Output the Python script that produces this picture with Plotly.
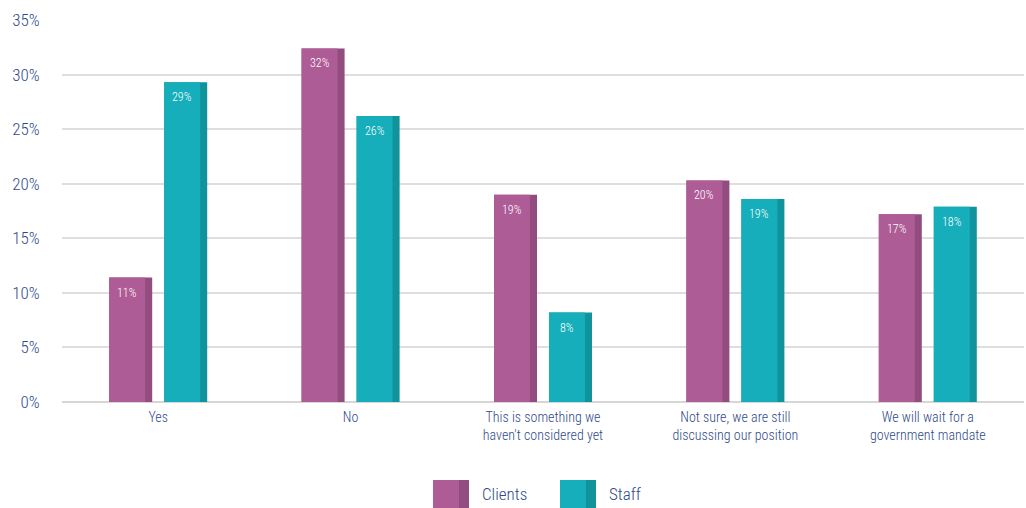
import plotly.graph_objects as go

categories = [
    "Yes",
    "No",
    "This is something we<br>haven't considered yet",
    "Not sure, we are still<br>discussing our position",
    "We will wait for a<br>government mandate",
]
clients = [11.4, 32.4, 19.0, 20.3, 17.2]
staff = [29.3, 26.2, 8.2, 18.6, 17.9]
y_ticks = [0, 5, 10, 15, 20, 25, 30, 35]
y_tick_text = [f"{v}%" for v in y_ticks]

CLIENT_FACE, CLIENT_SIDE = "#AE5C96", "#924C80"
STAFF_FACE, STAFF_SIDE = "#15AEBA", "#11939B"
TEXT = "#2F4A8A"
FONT = "Liberation Sans Narrow, Roboto Condensed, Roboto, sans-serif"

# widths in category units (one category = ~192 px)
CAT_PX = 962 / 5
full_w = 0.2235
face_w = 0.187
client_off = -0.2547
staff_off = 0.0312

fig = go.Figure()

for vals, off, face, side in [
    (clients, client_off, CLIENT_FACE, CLIENT_SIDE),
    (staff, staff_off, STAFF_FACE, STAFF_SIDE),
]:
    # darker side panel spanning the whole bar
    fig.add_trace(go.Bar(
        x=categories, y=vals, offset=off, width=full_w,
        marker=dict(color=side, line=dict(width=0)),
        hoverinfo="skip",
    ))
    # lighter front face
    fig.add_trace(go.Bar(
        x=categories, y=vals, offset=off, width=face_w,
        marker=dict(color=face, line=dict(width=0)),
    ))
    # value label near the top of the front face
    for cat, v in zip(categories, vals):
        fig.add_annotation(
            x=cat, y=v, text=f"{v:.0f}%", showarrow=False,
            xshift=(off + face_w / 2) * CAT_PX, yshift=-15,
            xanchor="center", yanchor="middle",
            font=dict(color="white", size=12, family=FONT, weight=300),
        )

fig.update_layout(
    barmode="overlay",
    width=1026, height=508,
    margin=dict(l=62, r=2, t=20, b=106),
    plot_bgcolor="white", paper_bgcolor="white",
    showlegend=False,
    font=dict(family=FONT, color=TEXT),
)

fig.update_yaxes(
    range=[0, 35], tickvals=y_ticks, ticktext=y_tick_text,
    showgrid=True, gridcolor="#DEDEDE", gridwidth=2,
    zeroline=True, zerolinecolor="#D6D6D6", zerolinewidth=2,
    ticks="outside", ticklen=18, tickcolor="rgba(0,0,0,0)",
    tickfont=dict(size=17, color=TEXT, family=FONT, weight=300),
)
fig.update_xaxes(
    showgrid=False, showline=False,
    ticks="outside", ticklen=2, tickcolor="rgba(0,0,0,0)",
    tickfont=dict(size=14, color=TEXT, family=FONT, weight=300),
)

# legend drawn as bevelled swatches matching the bars
legend = [("Clients", CLIENT_FACE, CLIENT_SIDE, 433), ("Staff", STAFF_FACE, STAFF_SIDE, 560)]
for name, face, side, x0 in legend:
    fig.add_shape(type="rect", xref="paper", yref="paper",
                  x0=(x0 - 62) / 962, x1=(x0 + 36 - 62) / 962,
                  y0=(402 - 508) / 382, y1=(402 - 480) / 382,
                  fillcolor=side, line=dict(width=0))
    fig.add_shape(type="rect", xref="paper", yref="paper",
                  x0=(x0 - 62) / 962, x1=(x0 + 26 - 62) / 962,
                  y0=(402 - 508) / 382, y1=(402 - 480) / 382,
                  fillcolor=face, line=dict(width=0))
    fig.add_annotation(xref="paper", yref="paper",
                       x=(x0 + 47 - 62) / 962, y=(402 - 494) / 382,
                       text=name, showarrow=False, xanchor="left", yanchor="middle",
                       font=dict(size=17, color=TEXT, family=FONT, weight=300))

fig.write_html("out.html")
